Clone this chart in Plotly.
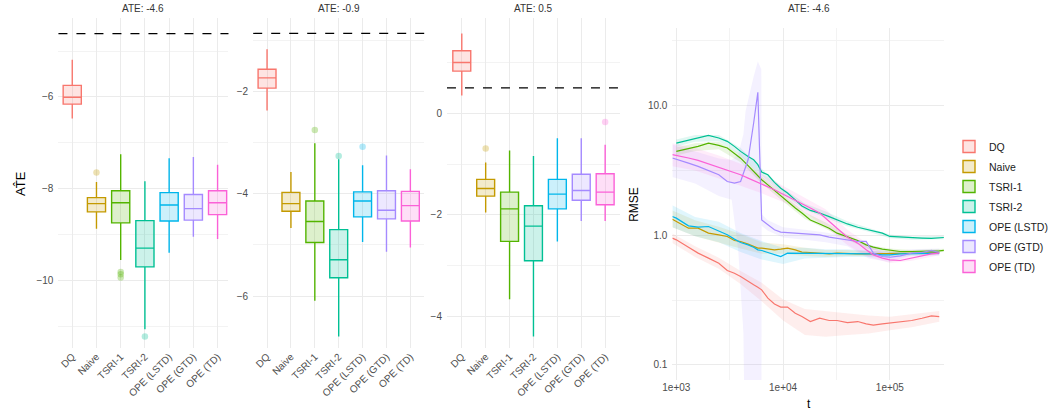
import plotly.graph_objects as go

W, H = 1053, 412

methods = ['DQ', 'Naive', 'TSRI-1', 'TSRI-2', 'OPE (LSTD)', 'OPE (GTD)', 'OPE (TD)']
colors = ['#F8766D', '#C49A00', '#53B400', '#00C094', '#00B6EB', '#A58AFF', '#FB61D7']

ate_labels = ['ATE: -4.6', 'ATE: -0.9', 'ATE: 0.5', 'ATE: -4.6']
ate_true = [-4.62, -0.86, 0.50]

# ---- panel 1 boxplot stats
p1_lower = [-6.47, -8.88, -9.56, -11.07, -9.40, -9.05, -9.10]
p1_q1 = [-6.16, -8.51, -8.75, -9.71, -8.71, -8.69, -8.57]
p1_med = [-6.01, -8.33, -8.31, -9.30, -8.36, -8.44, -8.31]
p1_q3 = [-5.75, -8.20, -8.05, -8.70, -8.09, -8.13, -8.05]
p1_upper = [-5.19, -7.86, -7.25, -7.84, -7.34, -7.31, -7.48]
p1_out_m = ['Naive', 'TSRI-1', 'TSRI-1', 'TSRI-1', 'TSRI-2']
p1_out_v = [-7.65, -9.82, -9.87, -9.94, -11.23]

# ---- panel 2
p2_lower = [-2.37, -4.67, -6.09, -6.79, -4.94, -5.13, -5.05]
p2_q1 = [-1.93, -4.34, -4.95, -5.64, -4.45, -4.49, -4.53]
p2_med = [-1.73, -4.19, -4.54, -5.29, -4.14, -4.32, -4.23]
p2_q3 = [-1.56, -3.97, -4.14, -4.70, -3.96, -3.94, -3.95]
p2_upper = [-1.17, -3.57, -3.01, -3.32, -3.44, -3.25, -3.52]
p2_out_m = ['TSRI-1', 'TSRI-2', 'OPE (LSTD)']
p2_out_v = [-2.75, -3.26, -3.08]

# ---- panel 3
p3_lower = [0.35, -1.95, -3.66, -4.39, -2.52, -2.12, -2.12]
p3_q1 = [0.83, -1.63, -2.52, -2.90, -1.88, -1.71, -1.80]
p3_med = [1.00, -1.48, -1.88, -2.22, -1.59, -1.52, -1.55]
p3_q3 = [1.23, -1.30, -1.55, -1.82, -1.30, -1.20, -1.19]
p3_upper = [1.57, -0.97, -0.73, -0.84, -0.49, -0.49, -0.62]
p3_out_m = ['Naive', 'OPE (TD)']
p3_out_v = [-0.69, -0.17]

# ---- panel 4 RMSE curves
t_grid = [918, 1000, 1300, 1600, 2000, 2500, 3000, 3500, 4000, 4700, 5300, 5800, 6300,
          7200, 8300, 9500, 11000, 13000, 15000, 18000, 22000, 27000, 32000, 40000,
          50000, 60000, 70000, 85000, 100000, 125000, 160000, 200000, 245000, 290000]
t_grid_tsri = [1000, 1300, 1600, 2000, 2500, 3000, 3500, 4000, 4700, 5300, 5800, 6300,
               7200, 8300, 9500, 11000, 13000, 15000, 18000, 22000, 27000, 32000, 40000,
               50000, 60000, 70000, 85000, 100000, 125000, 160000, 200000, 245000, 290000, 320000]

rmse_dq = [0.948, 0.920, 0.808, 0.727, 0.665, 0.608, 0.534, 0.509, 0.480, 0.439, 0.414, 0.397, 0.379,
           0.327, 0.295, 0.279, 0.279, 0.250, 0.236, 0.216, 0.229, 0.220, 0.220, 0.212,
           0.216, 0.207, 0.203, 0.207, 0.210, 0.215, 0.220, 0.229, 0.239, 0.236]
rmse_naive = [1.328, 1.274, 1.132, 1.132, 1.036, 1.006, 0.977, 0.910, 0.894, 0.852, 0.818, 0.794, 0.794,
              0.780, 0.771, 0.780, 0.794, 0.771, 0.740, 0.735, 0.727, 0.718, 0.727, 0.718,
              0.718, 0.718, 0.718, 0.718, 0.718, 0.718, 0.727, 0.727, 0.735, 0.735]
rmse_tsri1 = [4.42, 4.63, 4.83, 5.12, 4.92, 4.69, 4.29, 3.92, 3.43, 3.10, 2.83, 2.67,
              2.44, 2.21, 1.99, 1.82, 1.62, 1.48, 1.31, 1.22, 1.13, 1.036, 0.965,
              0.910, 0.842, 0.808, 0.780, 0.762, 0.748, 0.748, 0.748, 0.748, 0.757, 0.762]
rmse_tsri2 = [5.12, 5.37, 5.60, 5.87, 5.60, 5.28, 4.83, 4.42, 4.04, 3.81, 3.49, 3.06,
              2.92, 2.55, 2.30, 2.11, 1.87, 1.68, 1.55, 1.48, 1.39, 1.31, 1.22,
              1.15, 1.11, 1.07, 1.036, 0.977, 0.965, 0.948, 0.948, 0.943, 0.948, 0.959]
rmse_lstd = [1.393, 1.352, 1.180, 1.152, 1.166, 1.067, 1.006, 0.932, 0.878, 0.842, 0.808, 0.771, 0.762,
             0.735, 0.705, 0.684, 0.727, 0.727, 0.727, 0.727, 0.718, 0.727, 0.727, 0.727,
             0.718, 0.718, 0.718, 0.705, 0.705, 0.718, 0.718, 0.718, 0.727, 0.727]
rmse_gtd = [3.93, 3.85, 3.59, 3.39, 3.15, 2.92, 2.59, 2.52, 2.59, 3.81, 7.31, 12.6, 1.31,
            1.20, 1.10, 1.055, 1.048, 1.036, 1.024, 1.018, 1.006, 0.965, 0.948, 0.920,
            0.894, 0.894, 0.727, 0.685, 0.676, 0.693, 0.727, 0.735, 0.762, 0.735]
rmse_td = [4.17, 4.12, 3.93, 3.77, 3.55, 3.35, 3.19, 3.04, 2.92, 2.75, 2.64, 2.56, 2.49,
           2.37, 2.24, 2.11, 1.99, 1.87, 1.76, 1.62, 1.48, 1.27, 1.13, 0.965,
           0.868, 0.771, 0.705, 0.665, 0.645, 0.638, 0.665, 0.693, 0.718, 0.727]

# ribbons (confidence bands)
band_t = [918, 1500, 2500, 4000, 6300, 10000, 16000, 25000, 40000, 63000, 100000, 160000, 290000]
band_t_tsri = [1000, 1500, 2500, 4000, 6300, 10000, 16000, 25000, 40000, 63000, 100000, 160000, 320000]
band_gtd_t = [918, 1500, 2500, 3300, 3800, 4250, 4450, 5300, 5800, 6250, 6300, 7200, 10000, 16000,
              25000, 40000, 63000, 100000, 160000, 290000]

dq_lo = [0.87, 0.68, 0.55, 0.42, 0.31, 0.22, 0.17, 0.165, 0.17, 0.175, 0.185, 0.195, 0.215]
dq_hi = [1.03, 0.82, 0.67, 0.53, 0.43, 0.32, 0.27, 0.26, 0.25, 0.24, 0.235, 0.245, 0.26]
naive_lo = [1.15, 0.98, 0.88, 0.79, 0.72, 0.72, 0.69, 0.68, 0.69, 0.69, 0.69, 0.70, 0.71]
naive_hi = [1.55, 1.30, 1.16, 1.02, 0.88, 0.85, 0.80, 0.77, 0.77, 0.75, 0.75, 0.76, 0.76]
tsri1_lo = [4.1, 4.45, 4.6, 3.65, 2.5, 1.82, 1.33, 1.12, 0.92, 0.78, 0.735, 0.725, 0.74]
tsri1_hi = [4.75, 5.1, 5.25, 4.2, 2.85, 2.05, 1.50, 1.25, 1.01, 0.84, 0.79, 0.77, 0.785]
tsri2_lo = [4.8, 5.25, 5.3, 4.15, 2.88, 2.05, 1.57, 1.37, 1.17, 1.06, 0.945, 0.92, 0.93]
tsri2_hi = [5.45, 5.9, 5.9, 4.7, 3.25, 2.3, 1.75, 1.52, 1.28, 1.14, 1.01, 0.975, 0.99]
lstd_lo = [1.15, 0.98, 0.88, 0.74, 0.65, 0.60, 0.66, 0.67, 0.68, 0.68, 0.67, 0.69, 0.70]
lstd_hi = [1.70, 1.38, 1.27, 1.04, 0.90, 0.80, 0.80, 0.78, 0.78, 0.76, 0.74, 0.75, 0.76]
gtd_lo = [2.8, 2.5, 2.0, 1.87, 0.77, 0.176, 0.01, 0.01, 0.01, 0.01, 1.18, 1.08, 0.96, 0.92,
          0.88, 0.82, 0.66, 0.62, 0.70, 0.70]
gtd_hi = [5.0, 4.4, 3.9, 3.8, 4.2, 6.0, 9.0, 16.7, 21.8, 19.0, 1.45, 1.30, 1.15, 1.10,
          1.05, 0.98, 0.85, 0.74, 0.78, 0.79]
td_lo = [3.4, 3.15, 2.75, 2.4, 2.1, 1.8, 1.5, 1.15, 0.84, 0.68, 0.61, 0.635, 0.70]
td_hi = [5.1, 4.7, 4.1, 3.55, 2.95, 2.4, 1.95, 1.58, 1.1, 0.85, 0.68, 0.695, 0.755]

curves = [
    (t_grid, rmse_dq, band_t, dq_lo, dq_hi),
    (t_grid, rmse_naive, band_t, naive_lo, naive_hi),
    (t_grid_tsri, rmse_tsri1, band_t_tsri, tsri1_lo, tsri1_hi),
    (t_grid_tsri, rmse_tsri2, band_t_tsri, tsri2_lo, tsri2_hi),
    (t_grid, rmse_lstd, band_t, lstd_lo, lstd_hi),
    (t_grid, rmse_gtd, band_gtd_t, gtd_lo, gtd_hi),
    (t_grid, rmse_td, band_t, td_lo, td_hi),
]

FONT = 'Liberation Sans, Arial, sans-serif'
GRID = '#ebebeb'
MINOR = '#f3f3f3'
TICK = '#4d4d4d'


def rgba(hexc, a):
    h = hexc.lstrip('#')
    r, g, b = int(h[0:2], 16), int(h[2:4], 16), int(h[4:6], 16)
    return f'rgba({r},{g},{b},{a})'


def xd(a, b):
    return [a / W, b / W]


def yd(top, bottom):
    return [1 - bottom / H, 1 - top / H]


fig = go.Figure()

panels = [
    (p1_lower, p1_q1, p1_med, p1_q3, p1_upper, p1_out_m, p1_out_v),
    (p2_lower, p2_q1, p2_med, p2_q3, p2_upper, p2_out_m, p2_out_v),
    (p3_lower, p3_q1, p3_med, p3_q3, p3_upper, p3_out_m, p3_out_v),
]

for pi, (lo, q1, md, q3, up, om, ov) in enumerate(panels):
    xa = 'x' if pi == 0 else f'x{pi + 1}'
    ya = 'y' if pi == 0 else f'y{pi + 1}'
    for i, m in enumerate(methods):
        fig.add_trace(go.Box(
            x=[m], q1=[q1[i]], median=[md[i]], q3=[q3[i]],
            lowerfence=[lo[i]], upperfence=[up[i]],
            name=m, legendgroup=m, showlegend=(pi == 0),
            fillcolor=rgba(colors[i], 0.2), line=dict(color=colors[i], width=1.4),
            whiskerwidth=0, width=0.75, boxpoints=False,
            xaxis=xa, yaxis=ya,
        ))
    for m, v in zip(om, ov):
        ci = methods.index(m)
        fig.add_trace(go.Scatter(
            x=[m], y=[v], mode='markers', showlegend=False,
            marker=dict(color=rgba(colors[ci], 0.3), size=6.5),
            xaxis=xa, yaxis=ya,
        ))
    fig.add_shape(type='line', xref=f'{xa} domain', yref=ya, x0=0, x1=1,
                  y0=ate_true[pi], y1=ate_true[pi],
                  line=dict(color='black', width=1.2, dash='dash'))

# RMSE panel
for i, (tt, vals, bt, blo, bhi) in enumerate(curves):
    fig.add_trace(go.Scatter(
        x=list(bt) + list(bt)[::-1], y=list(bhi) + list(blo)[::-1],
        fill='toself', fillcolor=rgba(colors[i], 0.12), line=dict(width=0),
        mode='lines', showlegend=False, hoverinfo='skip',
        xaxis='x4', yaxis='y4',
    ))
for i, (tt, vals, bt, blo, bhi) in enumerate(curves):
    fig.add_trace(go.Scatter(
        x=tt, y=vals, mode='lines', line=dict(color=colors[i], width=1.2),
        showlegend=False, xaxis='x4', yaxis='y4',
    ))

cat_axis = dict(type='category', categoryorder='array', categoryarray=methods,
                showgrid=True, gridcolor=GRID, gridwidth=1.1, zeroline=False,
                showline=False, ticks='', tickangle=-45,
                tickfont=dict(family=FONT, size=10, color=TICK))
lin_y = dict(showgrid=True, gridcolor=GRID, gridwidth=1.1, zeroline=False,
             showline=False, ticks='', dtick=2, tick0=0,
             minor=dict(dtick=1, showgrid=True, gridcolor=MINOR, gridwidth=0.8),
             tickfont=dict(family=FONT, size=10, color=TICK), ticklabelstandoff=4)

fig.update_layout(
    width=W, height=H, autosize=False,
    margin=dict(l=0, r=0, t=0, b=0),
    paper_bgcolor='white', plot_bgcolor='white',
    boxmode='overlay',
    font=dict(family=FONT, color='#1a1a1a'),
    xaxis=dict(cat_axis, domain=xd(49, 221), range=[-0.57, 6.45], anchor='y'),
    xaxis2=dict(cat_axis, domain=xd(246, 419), range=[-0.58, 6.58], anchor='y2'),
    xaxis3=dict(cat_axis, domain=xd(442, 617), range=[-0.62, 6.62], anchor='y3'),
    yaxis=dict(lin_y, domain=yd(18, 348), range=[-11.48, -4.28], anchor='x'),
    yaxis2=dict(lin_y, domain=yd(18, 348), range=[-7.016, -0.558], anchor='x2'),
    yaxis3=dict(lin_y, domain=yd(18, 348), range=[-4.617, 1.875], anchor='x3'),
    xaxis4=dict(type='log', domain=xd(670, 945), range=[2.963, 5.509], anchor='y4',
                tickvals=[1e3, 1e4, 1e5], ticktext=['1e+03', '1e+04', '1e+05'],
                showgrid=True, gridcolor=GRID, gridwidth=1.1, zeroline=False, ticks='',
                minor=dict(tickvals=[3162.3, 31623, 316228], showgrid=True,
                           gridcolor=MINOR, gridwidth=0.8),
                tickfont=dict(family=FONT, size=10, color=TICK)),
    yaxis4=dict(type='log', domain=yd(28, 380), range=[-1.116, 1.596], anchor='x4',
                tickvals=[0.1, 1, 10], ticktext=['0.1', '1.0', '10.0'],
                showgrid=True, gridcolor=GRID, gridwidth=1.1, zeroline=False, ticks='',
                minor=dict(tickvals=[0.0316, 0.316, 3.162, 31.62], showgrid=True,
                           gridcolor=MINOR, gridwidth=0.8),
                tickfont=dict(family=FONT, size=10, color=TICK), ticklabelstandoff=4),
    legend=dict(x=950 / W, y=1 - 132 / H, xanchor='left', yanchor='top',
                font=dict(family=FONT, size=10.5, color='#1a1a1a'),
                tracegroupgap=1, bgcolor='rgba(0,0,0,0)'),
)

title_x = [135, 333, 530, 808]
for lab, cx in zip(ate_labels, title_x):
    fig.add_annotation(text=lab, x=cx / W, y=1 - 9 / H, xref='paper', yref='paper',
                       showarrow=False, xanchor='center', yanchor='middle',
                       font=dict(family=FONT, size=10, color='#333333'))

fig.add_annotation(text='AT\u0302E', x=10 / W, y=1 - 183 / H, xref='paper', yref='paper',
                   showarrow=False, textangle=-90, xanchor='center', yanchor='middle',
                   font=dict(family=FONT, size=13, color='black'))
fig.add_annotation(text='RMSE', x=631 / W, y=1 - 204 / H, xref='paper', yref='paper',
                   showarrow=False, textangle=-90, xanchor='center', yanchor='middle',
                   font=dict(family=FONT, size=12, color='black'))
fig.add_annotation(text='t', x=808 / W, y=1 - 404 / H, xref='paper', yref='paper',
                   showarrow=False, xanchor='center', yanchor='middle',
                   font=dict(family=FONT, size=12, color='black'))

fig.write_html('out.html', config={'displayModeBar': False},
               post_script="document.body.style.margin='0';document.body.style.padding='0';")
